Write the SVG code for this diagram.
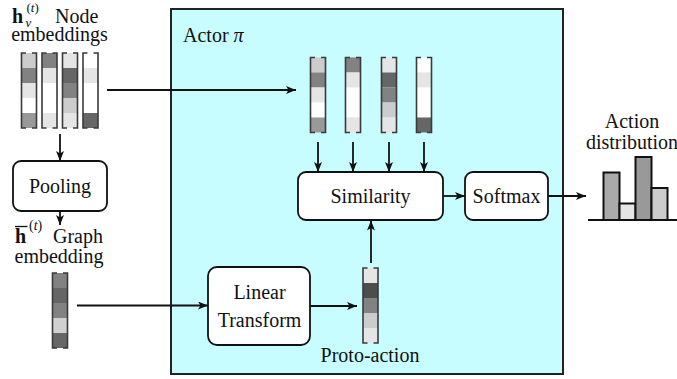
<svg xmlns="http://www.w3.org/2000/svg" xmlns:xlink="http://www.w3.org/1999/xlink" width="677" height="379" viewBox="0 0 677 379">
<style>
text{font-family:'Liberation Serif','DejaVu Serif',serif;font-size:20px;fill:#111}
.mid{text-anchor:middle}
.box{fill:#fff;stroke:#111;stroke-width:1.8}
.ln{stroke:#111;stroke-width:1.8;fill:none;marker-end:url(#ah)}
.vo{fill:none;stroke:#3a3a3a;stroke-width:1.6;stroke-dasharray:4.5 6 84 6 79.5}
.bar{stroke:#111;stroke-width:2}
.sup{font-size:14px}
.sm{font-size:13px}
.it{font-style:italic}
.bf{font-weight:bold}
</style>
<defs>
<marker id="ah" markerUnits="userSpaceOnUse" markerWidth="10" markerHeight="8" refX="10" refY="4" orient="auto">
<path d="M0,0 L10,4 L0,8 L2.5,4 z" fill="#111"/>
</marker>
<g id="v1">
<rect x="0" y="0" width="15" height="15" fill="#cccccc"/><rect x="0" y="15" width="15" height="15" fill="#828282"/><rect x="0" y="30" width="15" height="15" fill="#e5e5e5"/><rect x="0" y="45" width="15" height="15" fill="#ffffff"/><rect x="0" y="60" width="15" height="15" fill="#999999"/>
<rect class="vo" x="0" y="0" width="15" height="75"/>
</g>
<g id="v2">
<rect x="0" y="0" width="15" height="15" fill="#828282"/><rect x="0" y="15" width="15" height="15" fill="#e5e5e5"/><rect x="0" y="30" width="15" height="30" fill="#ffffff"/><rect x="0" y="60" width="15" height="15" fill="#e5e5e5"/>
<rect class="vo" x="0" y="0" width="15" height="75"/>
</g>
<g id="v3">
<rect x="0" y="0" width="15" height="15" fill="#e5e5e5"/><rect x="0" y="15" width="15" height="15" fill="#666666"/><rect x="0" y="30" width="15" height="15" fill="#828282"/><rect x="0" y="45" width="15" height="15" fill="#cccccc"/><rect x="0" y="60" width="15" height="15" fill="#e5e5e5"/>
<rect class="vo" x="0" y="0" width="15" height="75"/>
</g>
<g id="v4">
<rect x="0" y="0" width="15" height="15" fill="#ffffff"/><rect x="0" y="15" width="15" height="15" fill="#e5e5e5"/><rect x="0" y="30" width="15" height="30" fill="#ffffff"/><rect x="0" y="60" width="15" height="15" fill="#666666"/>
<rect class="vo" x="0" y="0" width="15" height="75"/>
</g>
</defs>

<g id="actor">
<rect x="171" y="9" width="392" height="365" fill="#c8fdff" stroke="#222" stroke-width="2"/>
<text x="183" y="42">Actor <tspan class="it">π</tspan></text>
</g>

<g id="node-embeddings">
<text x="12" y="23" class="bf">h</text>
<text x="25.5" y="26.5" class="sm it">v</text>
<text x="26.5" y="11.5" class="sm">(<tspan class="it">t</tspan>)</text>
<text x="55" y="23">Node</text>
<text x="59.5" y="41" class="mid">embeddings</text>
<use xlink:href="#v1" x="21.5" y="53"/>
<use xlink:href="#v2" x="42" y="53"/>
<use xlink:href="#v3" x="62.5" y="53"/>
<use xlink:href="#v4" x="83" y="53"/>
</g>

<g id="pooling">
<rect class="box" x="13" y="161" width="94" height="50" rx="8"/>
<text x="60" y="193" class="mid">Pooling</text>
</g>

<g id="graph-embedding">
<text x="15" y="243" class="bf">h</text>
<line x1="15" y1="226.5" x2="27.5" y2="226.5" stroke="#111" stroke-width="1.3"/>
<text x="29" y="229.5" class="sup">(<tspan class="it">t</tspan>)</text>
<text x="53" y="243">Graph</text>
<text x="59" y="263" class="mid">embedding</text>
<rect x="52.5" y="273" width="15" height="15" fill="#828282"/>
<rect x="52.5" y="288" width="15" height="15" fill="#666666"/>
<rect x="52.5" y="303" width="15" height="15" fill="#828282"/>
<rect x="52.5" y="318" width="15" height="15" fill="#d0d0d0"/>
<rect x="52.5" y="333" width="15" height="15" fill="#666666"/>
<rect class="vo" x="52.5" y="273" width="15" height="75"/>
</g>

<g id="action-vectors">
<use xlink:href="#v1" x="310.5" y="57.5"/>
<use xlink:href="#v2" x="345.5" y="57.5"/>
<use xlink:href="#v3" x="381.5" y="57.5"/>
<use xlink:href="#v4" x="416.5" y="57.5"/>
</g>

<g id="similarity">
<rect class="box" x="298" y="172" width="145" height="48" rx="8"/>
<text x="370.5" y="203" class="mid">Similarity</text>
</g>

<g id="softmax">
<rect class="box" x="465" y="172" width="83" height="48" rx="8"/>
<text x="506.5" y="203" class="mid">Softmax</text>
</g>

<g id="linear-transform">
<rect class="box" x="208" y="267" width="102" height="78" rx="9"/>
<text x="259.5" y="299" class="mid">Linear</text>
<text x="259.5" y="327" class="mid">Transform</text>
</g>

<g id="proto-action">
<rect x="363" y="268" width="15" height="15" fill="#e5e5e5"/>
<rect x="363" y="283" width="15" height="15" fill="#4d4d4d"/>
<rect x="363" y="298" width="15" height="15" fill="#828282"/>
<rect x="363" y="313" width="15" height="15" fill="#cccccc"/>
<rect x="363" y="328" width="15" height="15" fill="#e5e5e5"/>
<rect class="vo" x="363" y="268" width="15" height="75"/>
<text x="370" y="362" class="mid">Proto-action</text>
</g>

<g id="action-distribution">
<text x="632" y="128" class="mid">Action</text>
<text x="632" y="149" class="mid">distribution</text>
<rect class="bar" x="603.5" y="172.5" width="16" height="47.5" fill="#aaaaaa"/>
<rect class="bar" x="619.5" y="203.5" width="16" height="16.5" fill="#e5e5e5"/>
<rect class="bar" x="635.5" y="157" width="16" height="63" fill="#999999"/>
<rect class="bar" x="651.5" y="188" width="16" height="32" fill="#cccccc"/>
<line x1="588" y1="220" x2="677" y2="220" stroke="#111" stroke-width="2"/>
</g>

<g id="connectors">
<line class="ln" x1="107" y1="90" x2="296" y2="90"/>
<line class="ln" x1="60" y1="134" x2="60" y2="161"/>
<line class="ln" x1="60" y1="211" x2="60" y2="225"/>
<line class="ln" x1="77" y1="305.5" x2="208" y2="305.5"/>
<line class="ln" x1="310" y1="306" x2="357" y2="306"/>
<line class="ln" x1="371" y1="263" x2="371" y2="220.5"/>
<line class="ln" x1="318" y1="142" x2="318" y2="172"/>
<line class="ln" x1="353" y1="142" x2="353" y2="172"/>
<line class="ln" x1="389" y1="142" x2="389" y2="172"/>
<line class="ln" x1="424" y1="142" x2="424" y2="172"/>
<line class="ln" x1="443" y1="196" x2="465" y2="196"/>
<line class="ln" x1="548" y1="196" x2="586" y2="196"/>
</g>
</svg>
